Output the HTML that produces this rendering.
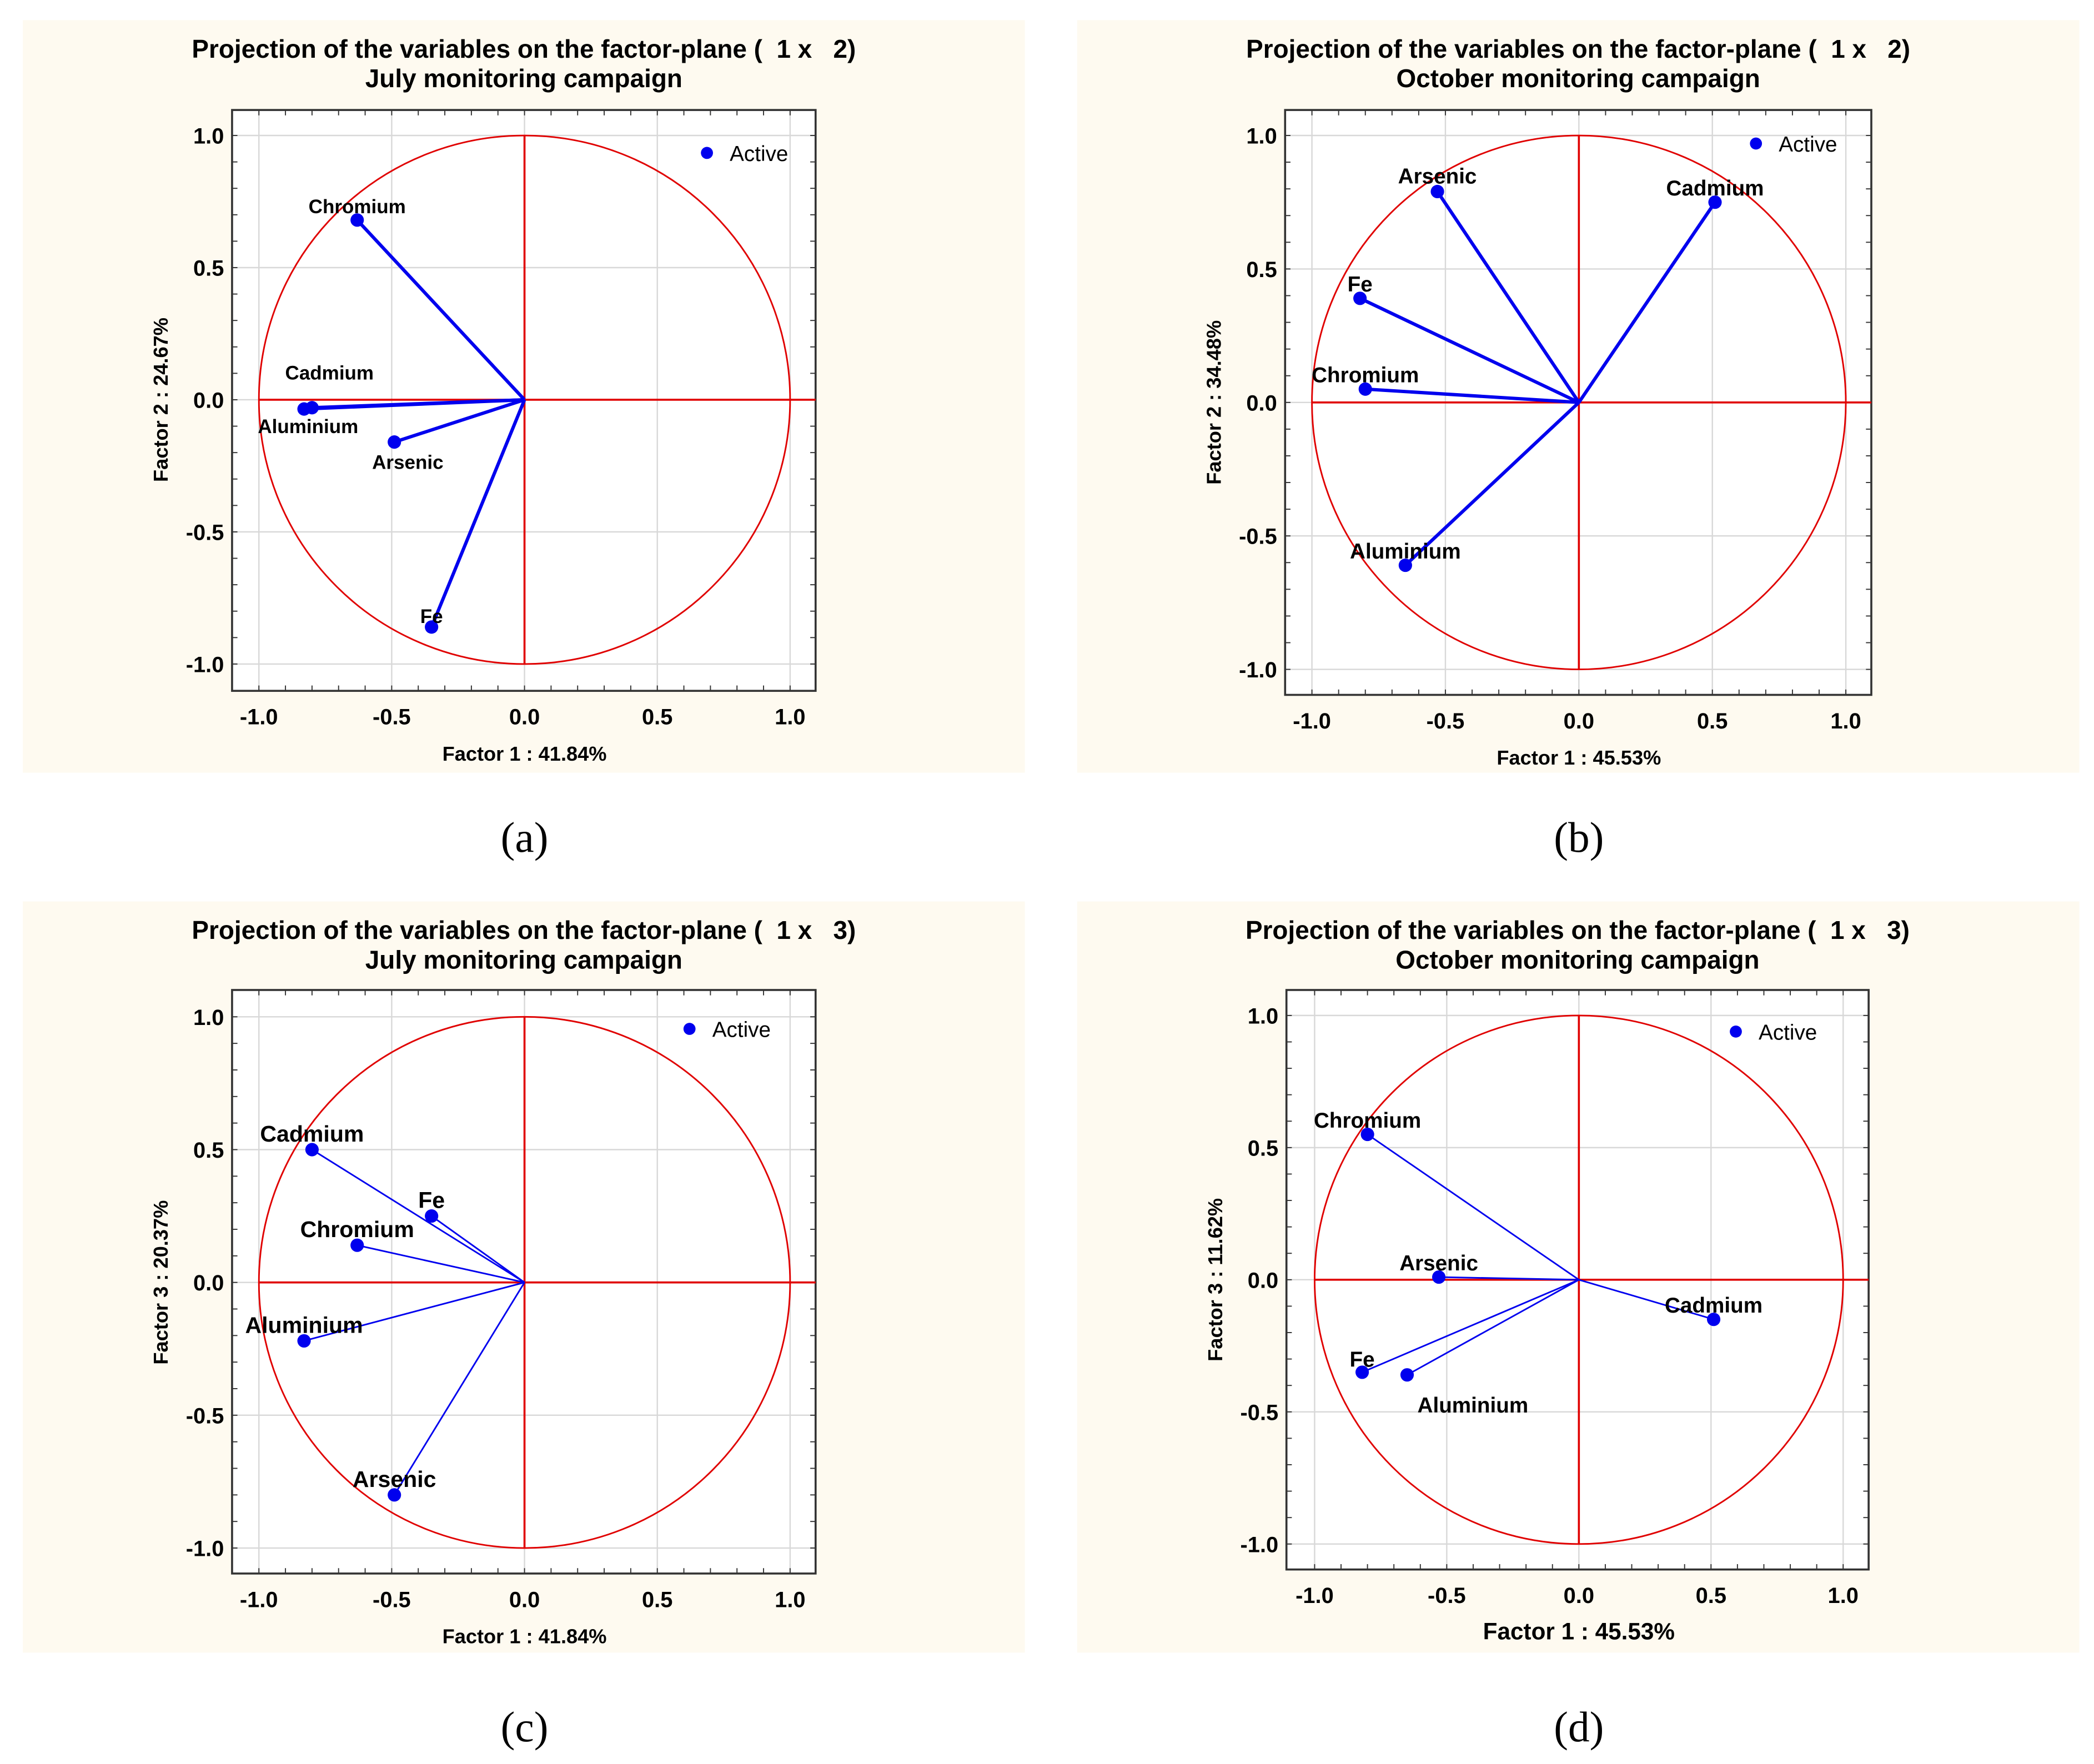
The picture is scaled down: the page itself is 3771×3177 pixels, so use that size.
<!DOCTYPE html>
<html><head><meta charset="utf-8"><style>
html,body{margin:0;padding:0;background:#fff;}
svg{display:block;}
text{font-family:"Liberation Sans",Arial,sans-serif;white-space:pre;}
</style></head><body>
<svg id="fig" width="3771" height="3177" viewBox="0 0 1561 1315" preserveAspectRatio="none" xmlns="http://www.w3.org/2000/svg"></svg>
<script>
// Panel data (factor loadings)
const namesA = ["Chromium","Cadmium","Aluminium","Arsenic","Fe"];
const xA = [-0.63,-0.80,-0.83,-0.49,-0.35];
const yA = [0.68,-0.03,-0.035,-0.16,-0.86];
const namesB = ["Arsenic","Cadmium","Fe","Chromium","Aluminium"];
const xB = [-0.53,0.51,-0.82,-0.80,-0.65];
const yB = [0.79,0.75,0.39,0.05,-0.61];
const namesC = ["Cadmium","Fe","Chromium","Aluminium","Arsenic"];
const xC = [-0.80,-0.35,-0.63,-0.83,-0.49];
const yC = [0.50,0.25,0.14,-0.22,-0.80];
const namesD = ["Chromium","Arsenic","Cadmium","Fe","Aluminium"];
const xD = [-0.80,-0.53,0.51,-0.82,-0.65];
const yD = [0.55,0.01,-0.15,-0.35,-0.36];
const tickVals = [-1.0,-0.5,0.0,0.5,1.0];
const tickLabels = ["-1.0","-0.5","0.0","0.5","1.0"];

const NS="http://www.w3.org/2000/svg";
const svg=document.getElementById('fig');
function mk(tag,attrs,parent,txt){const e=document.createElementNS(NS,tag);for(const k in attrs)e.setAttribute(k,attrs[k]);if(txt!==undefined)e.textContent=txt;(parent||svg).appendChild(e);return e;}

const panels=[
 {id:'a',names:namesA,xs:xA,ys:yA,bg:[17,15,747,561],frame:[173,82,608,515],x0:391,xs1:198,y0:298,ys1:197,
  t1:"Projection of the variables on the factor-plane (  1 x   2)",t2:"July monitoring campaign",xt:"Factor 1 : 41.84%",yt:"Factor 2 : 24.67%",
  leg:[527,114],lw:2.5,fs:14.5,r:5,xtf:15,
  off:[[0,-5],[13,-21],[3,18],[10,20],[0,-3]],cap:"(a)",capY:635},
 {id:'b',names:namesB,xs:xB,ys:yB,bg:[803,15,747,561],frame:[958,82,1395,518],x0:1177,xs1:199,y0:300,ys1:199,
  t1:"Projection of the variables on the factor-plane (  1 x   2)",t2:"October monitoring campaign",xt:"Factor 1 : 45.53%",yt:"Factor 2 : 34.48%",
  leg:[1309,107],lw:2.5,fs:16,r:5,xtf:15,
  off:[[0,-6],[0,-5],[0,-5],[0,-5],[0,-5]],cap:"(b)",capY:635},
 {id:'c',names:namesC,xs:xC,ys:yC,bg:[17,672,747,560],frame:[173,738,608,1173],x0:391,xs1:198,y0:956,ys1:198,
  t1:"Projection of the variables on the factor-plane (  1 x   3)",t2:"July monitoring campaign",xt:"Factor 1 : 41.84%",yt:"Factor 3 : 20.37%",
  leg:[514,767],lw:1.2,fs:17,r:5,xtf:15,
  off:[[0,-6],[0,-6],[0,-6],[0,-6],[0,-6]],cap:"(c)",capY:1298},
 {id:'d',names:namesD,xs:xD,ys:yD,bg:[803,672,747,560],frame:[959,738,1393,1170],x0:1177,xs1:197,y0:954,ys1:197,
  t1:"Projection of the variables on the factor-plane (  1 x   3)",t2:"October monitoring campaign",xt:"Factor 1 : 45.53%",yt:"Factor 3 : 11.62%",
  leg:[1294,769],lw:1.2,fs:16,r:5,xtf:17.5,
  off:[[0,-5],[0,-5],[0,-5],[0,-4],[49,28]],cap:"(d)",capY:1298}
];

panels.forEach(p=>{
 const g=mk('g',{});
 
 
 const sx=v=>p.x0+v*p.xs1, sy=v=>p.y0-v*p.ys1;
 const bg=mk('rect',{x:p.bg[0],y:p.bg[1],width:p.bg[2],height:p.bg[3],fill:'#fefaf0'},g);
 
 const [fx1,fy1,fx2,fy2]=p.frame;
 const pa=mk('rect',{x:fx1,y:fy1,width:fx2-fx1,height:fy2-fy1,fill:'#fff'},g);
 
 const t1=mk('text',{x:(fx1+fx2)/2,y:p.bg[1]+28,'text-anchor':'middle','font-size':19,'font-weight':'bold'},g,p.t1);
 
 const t2=mk('text',{x:(fx1+fx2)/2,y:p.bg[1]+50,'text-anchor':'middle','font-size':19,'font-weight':'bold'},g,p.t2);
 
 tickVals.forEach((v,i)=>{
  const gx=mk('line',{x1:sx(v),x2:sx(v),y1:fy1,y2:fy2,stroke:'#d8d8d8','stroke-width':1},g);
  
  const gy=mk('line',{x1:fx1,x2:fx2,y1:sy(v),y2:sy(v),stroke:'#d8d8d8','stroke-width':1},g);
  
  const xl=mk('text',{x:sx(v),y:fy2+25,'text-anchor':'middle','font-size':16.5,'font-weight':'bold'},g,tickLabels[i]);
  
  const yl=mk('text',{x:fx1-6,y:sy(v)+6,'text-anchor':'end','font-size':16.5,'font-weight':'bold'},g,tickLabels[i]);
  
 });
 for(let k=-10;k<=10;k++){
  const v=k/10;
  mk('line',{x1:sx(v),x2:sx(v),y1:fy1,y2:fy1+4,stroke:'#333','stroke-width':0.8},g);
  mk('line',{x1:sx(v),x2:sx(v),y1:fy2,y2:fy2-4,stroke:'#333','stroke-width':0.8},g);
  mk('line',{x1:fx1,x2:fx1+4,y1:sy(v),y2:sy(v),stroke:'#333','stroke-width':0.8},g);
  mk('line',{x1:fx2,x2:fx2-4,y1:sy(v),y2:sy(v),stroke:'#333','stroke-width':0.8},g);
 }
 const fr=mk('rect',{x:fx1,y:fy1,width:fx2-fx1,height:fy2-fy1,fill:'none',stroke:'#333','stroke-width':1.5},g);
 
 const c=mk('ellipse',{cx:sx(0),cy:sy(0),rx:p.xs1,ry:p.ys1,fill:'none',stroke:'#e00000','stroke-width':1.2},g);
 
 const h=mk('line',{x1:sx(-1),x2:fx2,y1:sy(0),y2:sy(0),stroke:'#e00000','stroke-width':1.5},g);
 
 const vv=mk('line',{x1:sx(0),x2:sx(0),y1:sy(1),y2:sy(-1),stroke:'#e00000','stroke-width':1.5},g);
 
 p.names.forEach((n,i)=>{
  const px=sx(p.xs[i]),py=sy(p.ys[i]);
  const ln=mk('line',{x1:sx(0),y1:sy(0),x2:px,y2:py,stroke:'#0000ee','stroke-width':p.lw},g);
  
  const pt=mk('circle',{cx:px,cy:py,r:p.r,fill:'#0000ee'},g);
  
  const lb=mk('text',{x:px+p.off[i][0],y:py+p.off[i][1],'text-anchor':'middle','font-size':p.fs,'font-weight':'bold'},g,n);
  
 });
 const ld=mk('circle',{cx:p.leg[0],cy:p.leg[1],r:4.5,fill:'#0000ee'},g);
 
 const lt=mk('text',{x:p.leg[0]+17,y:p.leg[1]+6,'font-size':16},g,'Active');
 
 const xt=mk('text',{x:sx(0),y:fy2+52,'text-anchor':'middle','font-size':p.xtf,'font-weight':'bold'},g,p.xt);
 
 const yx=fx1-48, yy=sy(0);
 const yt=mk('text',{x:yx,y:yy,'text-anchor':'middle','font-size':15,'font-weight':'bold',transform:`rotate(-90 ${yx} ${yy})`},g,p.yt);
 
 const cap=mk('text',{x:sx(0),y:p.capY,'text-anchor':'middle','font-size':32,style:'font-family:"Liberation Serif",serif'},g,p.cap);
 
});
</script>
</body></html>
